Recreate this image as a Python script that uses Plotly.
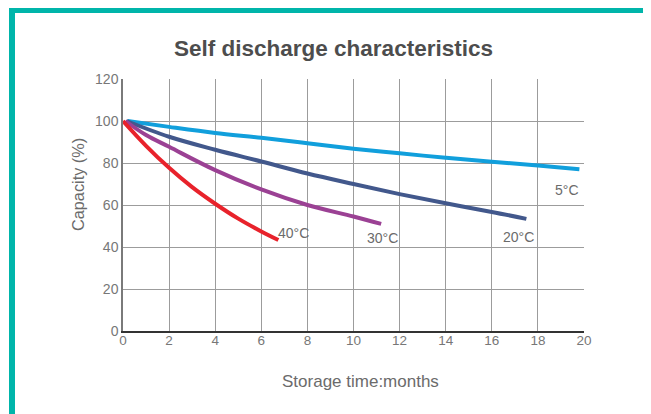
import plotly.graph_objects as go

# ---- data ----
x_5c = [0.2, 2, 4, 6, 8, 10, 12, 14, 16, 18, 19.8]
y_5c = [100, 97.2, 94.3, 92, 89.4, 86.8, 84.6, 82.5, 80.6, 78.8, 77]

x_20c = [0.15, 2, 4, 6, 8, 10, 12, 14, 16, 17.5]
y_20c = [100, 92.5, 86.3, 80.7, 75, 70, 65.2, 60.8, 56.7, 53.4]

x_30c = [0.1, 1, 2, 4, 6, 8, 10, 11.2]
y_30c = [100, 93.3, 87.7, 76.6, 67.4, 60.0, 54.5, 51.0]

x_40c = [0, 1, 2, 3, 4, 5, 6, 6.74]
y_40c = [100, 88.2, 77.7, 68.5, 60.6, 53.5, 47.4, 43.3]

series_names = ["5°C", "20°C", "30°C", "40°C"]
series_colors = ["#119fdc", "#42588c", "#9b4194", "#e8222b"]
label_x = [19.85, 17.14, 11.25, 7.41]
label_y = [67.2, 44.9, 44.1, 46.8]
label_anchor = ["right", "center", "center", "center"]

x_ticks = [0, 2, 4, 6, 8, 10, 12, 14, 16, 18, 20]
y_ticks = [0, 20, 40, 60, 80, 100, 120]

# ---- layout geometry (page pixels); the page body has an 8px margin ----
OFF = 8
PAGE_W, PAGE_H = 651, 414
W, H = PAGE_W - OFF, PAGE_H - OFF
# plot area in page pixels: x 123..584, y 79..331
L, R, T, B = 123 - OFF, PAGE_W - 584, 79 - OFF, PAGE_H - 331
PW, PH = W - L - R, H - T - B

def px_x(p):  # page pixel -> paper x
    return (p - OFF - L) / PW

def px_y(p):  # page pixel -> paper y
    return (H - B - (p - OFF)) / PH

FONT = "Liberation Sans, Arial, sans-serif"
TEAL = "#00b5aa"

fig = go.Figure()
data = [(x_5c, y_5c), (x_20c, y_20c), (x_30c, y_30c), (x_40c, y_40c)]
for (xs, ys), name, col in zip(data, series_names, series_colors):
    fig.add_trace(go.Scatter(x=xs, y=ys, mode="lines", name=name,
                             line=dict(color=col, width=4, shape="spline", smoothing=1.0),
                             showlegend=False, hoverinfo="skip"))

for name, lx, ly, anc in zip(series_names, label_x, label_y, label_anchor):
    fig.add_annotation(x=lx, y=ly, text=name, showarrow=False, xanchor=anc, yanchor="middle",
                       font=dict(family=FONT, size=14, color="#6b6b6b"))

# axis titles as annotations
fig.add_annotation(xref="paper", yref="paper", x=px_x(78), y=px_y(185), text="Capacity (%)",
                   textangle=-90, showarrow=False, xanchor="center", yanchor="middle",
                   font=dict(family=FONT, size=16.3, color="#6b6b6b"))
fig.add_annotation(xref="paper", yref="paper", x=px_x(360), y=px_y(381), text="Storage time:months",
                   showarrow=False, xanchor="center", yanchor="middle",
                   font=dict(family=FONT, size=17, color="#6b6b6b"))

# teal frame
bw = 6
fig.add_shape(type="line", xref="paper", yref="paper", x0=px_x(12), x1=px_x(12), y0=px_y(4), y1=px_y(440),
              line=dict(color=TEAL, width=bw), layer="below")
fig.add_shape(type="line", xref="paper", yref="paper", x0=px_x(648.5), x1=px_x(648.5), y0=px_y(4), y1=px_y(440),
              line=dict(color=TEAL, width=bw), layer="below")
fig.add_shape(type="line", xref="paper", yref="paper", x0=px_x(9), x1=px_x(660), y0=px_y(10), y1=px_y(10),
              line=dict(color=TEAL, width=bw), layer="below")

fig.update_layout(
    width=W, height=H, autosize=False,
    margin=dict(l=L, r=R, t=T, b=B, pad=0),
    paper_bgcolor="white", plot_bgcolor="white",
    title=dict(text="<b>Self discharge characteristics</b>", x=(333.5 - OFF) / W, y=1 - (48 - OFF) / H,
               xanchor="center", yanchor="middle",
               font=dict(family=FONT, size=22.5, color="#4d4d4d")),
    font=dict(family=FONT),
)
fig.update_xaxes(range=[0, 20], tickvals=x_ticks, ticktext=[str(v) for v in x_ticks],
                 showgrid=True, gridcolor="#9c9c9c", gridwidth=1.4,
                 showline=True, linecolor="#333333", linewidth=1.5,
                 zeroline=False, ticks="", ticklabelstandoff=-4,
                 tickfont=dict(family=FONT, size=13.5, color="#777777"),
                 fixedrange=True)
fig.update_yaxes(range=[0, 120], tickvals=y_ticks, ticktext=[str(v) for v in y_ticks],
                 showgrid=True, gridcolor="#9c9c9c", gridwidth=1.4,
                 showline=True, linecolor="#7a7a7a", linewidth=1.5,
                 zeroline=False, ticks="", tickfont=dict(family=FONT, size=14, color="#777777"),
                 fixedrange=True)

fig.write_html("out.html")
